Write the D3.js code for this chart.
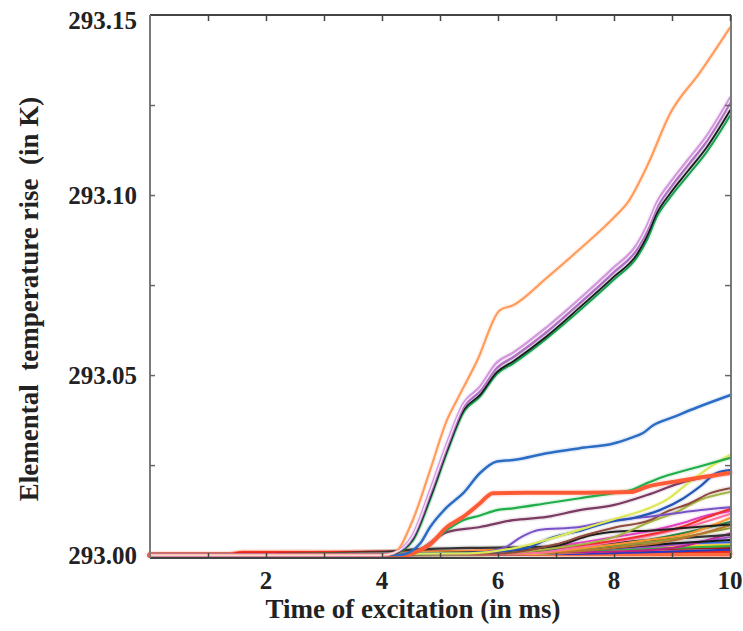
<!DOCTYPE html>
<html>
<head>
<meta charset="utf-8">
<script src="https://cdn.jsdelivr.net/npm/d3@7"></script>
<style>
    body { margin: 0; background: #fff; }
    svg { display: block; }
    .tick-label { font-family: "Liberation Serif", "Times New Roman", serif; font-weight: bold; font-size: 25px; fill: #222; }
    .axis-title { font-family: "Liberation Serif", "Times New Roman", serif; font-weight: bold; font-size: 27px; fill: #222; white-space: pre; }
    .series { fill: none; stroke-linejoin: round; stroke-linecap: round; }
</style>
</head>
<body>
<div id="chart"></div>
<script>
// Temperature values are stored as rise above 293 K, in mK: [time (ms), mK]
const BASE_K = 293;

// Main curves
const orangeTop = [[0,0],[4,0],[4.2,0.5],[4.53,9.7],[4.83,23.6],[5.12,37.5],[5.29,43],[5.64,54],[6.03,68],[6.26,69.4],[6.84,77],[7.41,85],[7.99,93.6],[8.24,98],[8.57,108],[8.97,122.7],[9.48,134],[10,146.5]];
const violetUpper = [[0,0],[4,0],[4.2,0.6],[4.53,5.5],[4.83,18],[5.12,31],[5.4,42],[5.69,46.8],[5.98,53.5],[6.26,56.2],[6.84,63.3],[7.41,71.2],[7.99,79.8],[8.4,86.4],[8.57,91.5],[8.74,98],[8.97,103.5],[9.26,109.5],[9.6,116.5],[10,127]];
const violetLower = [[0,0],[4,0],[4.2,0.5],[4.53,5],[4.83,17],[5.12,30],[5.4,41],[5.69,45.5],[5.98,52],[6.26,55],[6.84,62],[7.41,70],[7.99,78.5],[8.4,85],[8.57,90],[8.74,96.5],[8.97,102],[9.26,108],[9.6,115],[10,125.5]];
const blackMain = [[0,0],[4,0],[4.2,0.4],[4.53,4.4],[4.83,16],[5.12,29],[5.4,40],[5.69,44.5],[5.98,50.8],[6.26,53.8],[6.84,60.8],[7.41,68.8],[7.99,77.2],[8.4,83.6],[8.57,88.6],[8.74,95],[8.97,100.5],[9.26,106.4],[9.6,113.3],[10,123.5]];
const greenMain = [[0,0],[4,0],[4.2,0.3],[4.53,4],[4.83,15.5],[5.12,28.5],[5.4,39.5],[5.69,44],[5.98,50.3],[6.26,53.2],[6.84,60.2],[7.41,68],[7.99,76.4],[8.4,82.8],[8.57,87.6],[8.74,94],[8.97,99.4],[9.26,105.2],[9.6,112],[10,122]];
const blueMid = [[0,0],[4.3,0],[4.5,1],[4.66,3.3],[4.83,7.8],[5.12,13.3],[5.4,17.2],[5.69,22.8],[5.98,26],[6.26,26.4],[6.84,28.3],[7.41,29.7],[7.99,31],[8.28,32.5],[8.5,33.9],[8.67,36],[9.02,38.3],[9.43,41],[10,44.4]];
const redOrange = [[0,0],[4.4,0],[4.6,1],[4.83,3],[5.12,7.8],[5.4,10.6],[5.69,14.4],[5.91,17.2],[6.5,17.3],[7.5,17.3],[8.28,17.5],[8.57,19],[9.2,20.8],[10,22.8]];
const greenMid = [[0,0],[4.4,0],[4.7,1.5],[5.12,7],[5.4,9.7],[5.69,11],[5.98,12.5],[6.26,13],[6.84,14.4],[7.41,15.8],[7.99,17.2],[8.28,18],[8.57,20],[8.84,21.7],[9.43,24.4],[10,27]];
const plumMid = [[0,0],[4.4,0],[4.7,2],[5.12,6.4],[5.69,7.8],[6.26,9.7],[6.84,10.6],[7.41,12.5],[7.99,13.9],[8.57,16.7],[9.14,20],[10,22.8]];

// Lower curves
const yellowLow = [[0,0],[5.5,0.5],[6.3,2],[7,5],[7.5,7.5],[8,10],[8.6,13],[8.9,15.3],[9.3,20.3],[9.66,24.5],[10,27.8]];
const navyLow = [[0,0],[5,0.5],[6,1],[6.5,2],[6.9,4.7],[7.47,7],[7.93,9.2],[8.33,10.3],[8.79,12.5],[9.2,15.8],[9.48,19],[9.77,22.8],[10,23.6]];
const purpleLow = [[0,0],[5.5,0.5],[6.1,2],[6.4,5],[6.7,7],[7.4,7.8],[8,9.7],[8.5,10.5],[9,11.5],[9.5,12.5],[10,13.3]];
const brownLow = [[0,0],[6,0.5],[7,3],[7.5,5.5],[8.05,7.8],[8.62,9.7],[8.9,12],[9.31,14.4],[9.66,17.2],[10,18.6]];
const oliveLow = [[0,0],[6,0.5],[7,2],[8,5],[8.62,9.2],[9.08,12],[9.48,15.3],[10,17.5]];
const redLow = [[0,0],[6,0.5],[7,2],[8,4],[8.7,6],[9.2,8],[9.6,10.5],[10,12.8]];
const magentaLow = [[0,0],[6,0.5],[7,2.5],[8,5],[8.7,7],[9.2,9],[9.6,11],[10,12.2]];
const pinkLow = [[0,0],[6.5,0.5],[7.5,2.5],[8.5,5],[9.2,7.5],[10,11.4]];
const orangeLow = [[0,0],[6.5,0.5],[7.5,2],[8.5,4],[9.3,6],[10,10.3]];
const darkGreenLow = [[0,0],[6,0.5],[7.5,2],[8.5,4],[9.3,6.5],[10,9.2]];
const tanLow = [[0,0],[6.5,0.5],[8,2],[9,4],[10,8.3]];
const khakiLow = [[0,0],[7,1],[8,2.5],[9,4.5],[10,7.5]];
const blackLowA = [[0,0],[4.5,0.5],[6,1],[7,2.5],[7.6,5.5],[8,6.5],[8.6,6.8],[9.2,7.5],[10,8.5]];
const blackLowB = [[0,0],[5,0.3],[7,1],[8,2],[9,3.2],[10,4.2]];
const darkBand = [[0,0],[4,0.8],[4.5,1.5],[5.5,2],[6.5,2.2],[7.5,2.8],[8.5,4],[10,5.6]];
const blueLow = [[0,0],[6,0.5],[7,1.5],[8,2.5],[9,3.2],[10,3.6]];
const greenLow = [[0,0],[6,0.3],[7,1],[8,1.5],[9,2],[10,2.5]];
const goldLow = [[0,0],[6.5,0.3],[8,1.2],[9,2.2],[10,3]];
const indigoLow = [[0,0],[7,0.3],[9,1],[10,1.5]];
const violetLow = [[0,0],[6,0.5],[7.5,1.5],[9,2.8],[10,5]];
const crimsonLow = [[0,0],[6,0.5],[8,1],[9,2],[10,6]];
const orangeBand = [[0,0],[4,0.6],[5,1],[6,1.5],[8,2],[10,2.8]];
const maroonBand = [[0,0],[3,0.5],[4,1],[5,1],[6,1.2],[8,1.5],[10,2]];
const redBase = [[0,0],[1.3,0],[1.6,0.7],[4,0.8],[6,0.8],[8,0.9],[10,1]];
const vermilionBase = [[0,0],[1.3,0],[1.6,0.5],[4,0.5],[7,0.4],[10,0.3]];

// Axis ticks
const xTickLabels = [2, 4, 6, 8, 10];
const xMinorTicks = [1, 2, 3, 4, 5, 6, 7, 8, 9, 10];
const yTickLabels = ["293.00", "293.05", "293.10", "293.15"];
const yMinorTicks = [293.025, 293.05, 293.075, 293.10, 293.125];

// Drawing table: data + style, lower curves first
const seriesTable = [
    { data: vermilionBase, color: "#ff6a40", w: 5 },
    { data: redBase, color: "#e8261c", w: 2.6 },
    { data: maroonBand, color: "#9c1a14", w: 2 },
    { data: orangeBand, color: "#ff8a3c", w: 2 },
    { data: indigoLow, color: "#2a38c0", w: 2 },
    { data: goldLow, color: "#f0d030", w: 2 },
    { data: greenLow, color: "#2fb040", w: 2 },
    { data: blueLow, color: "#3060e0", w: 2 },
    { data: crimsonLow, color: "#c02088", w: 2 },
    { data: violetLow, color: "#a050d0", w: 2 },
    { data: darkBand, color: "#333333", w: 2.2 },
    { data: blackLowB, color: "#1a1a1a", w: 2 },
    { data: khakiLow, color: "#98982a", w: 2 },
    { data: tanLow, color: "#b87430", w: 2 },
    { data: darkGreenLow, color: "#2f8040", w: 2 },
    { data: orangeLow, color: "#ff9434", w: 2 },
    { data: pinkLow, color: "#ff70a0", w: 2 },
    { data: magentaLow, color: "#e040c0", w: 2 },
    { data: redLow, color: "#f03030", w: 2.2 },
    { data: blackLowA, color: "#202020", w: 2 },
    { data: oliveLow, color: "#a4b444", w: 2 },
    { data: brownLow, color: "#8e4a3c", w: 2 },
    { data: purpleLow, color: "#7a52c8", w: 2 },
    { data: navyLow, color: "#2456b8", w: 2.2 },
    { data: yellowLow, color: "#dce858", w: 2.2 },
    { data: plumMid, color: "#7a3a62", w: 2.2 },
    { data: greenMid, color: "#1fae4a", w: 2.2 },
    { data: redOrange, color: "#ff5a36", w: 4 },
    { data: blueMid, color: "#2b6cc4", w: 2.5 },
    { data: greenMain, color: "#14a050", w: 2 },
    { data: blackMain, color: "#1a1a1a", w: 1.8 },
    { data: violetLower, color: "#b070c4", w: 2.6 },
    { data: violetUpper, color: "#d49ade", w: 2.6 },
    { data: orangeTop, color: "#ff9c5c", w: 2.2 }
];

function drawChart() {
    const width = 743, height = 631;
    const left = 150, right = 731, top = 15, bottom = 558;

    const svg = d3.select("#chart").append("svg")
        .attr("width", width)
        .attr("height", height);

    const x = d3.scaleLinear().domain([0, 10]).range([left, right - 1]);
    const y = d3.scaleLinear().domain([292.9992, 293.15]).range([bottom, top]);

    const line = d3.line()
        .x(d => x(d[0]))
        .y(d => y(BASE_K + d[1] / 1000))
        .curve(d3.curveMonotoneX);

    const plot = svg.append("g");

    // soft halo under each curve, like the printed original
    plot.selectAll(".halo")
        .data(seriesTable)
        .join("path")
        .attr("class", "series halo")
        .attr("d", d => line(d.data))
        .attr("stroke", d => d.color)
        .attr("stroke-width", d => d.w + 3)
        .attr("opacity", 0.12);

    plot.selectAll(".curve")
        .data(seriesTable)
        .join("path")
        .attr("class", "series curve")
        .attr("d", d => line(d.data))
        .attr("stroke", d => d.color)
        .attr("stroke-width", d => d.w);

    // light core inside the violet pair
    plot.append("path")
        .attr("class", "series")
        .attr("d", line(violetLower.map((d, i) => [d[0], (d[1] + violetUpper[i][1]) / 2])))
        .attr("stroke", "#f6eaf8")
        .attr("stroke-width", 1.2);

    // frame
    const frame = svg.append("g");
    frame.append("line").attr("x1", left).attr("x2", right).attr("y1", top).attr("y2", top)
        .attr("stroke", "#444").attr("stroke-width", 2);
    frame.append("line").attr("x1", left).attr("x2", right).attr("y1", bottom).attr("y2", bottom)
        .attr("stroke", "#444").attr("stroke-width", 2);
    frame.append("line").attr("x1", left).attr("x2", left).attr("y1", top).attr("y2", bottom)
        .attr("stroke", "#7a7a7a").attr("stroke-width", 2);
    frame.append("line").attr("x1", right).attr("x2", right).attr("y1", top).attr("y2", bottom)
        .attr("stroke", "#7a7a7a").attr("stroke-width", 2);

    // x ticks, bottom and top, pointing inward
    svg.append("g")
        .attr("transform", `translate(0, ${bottom})`)
        .call(d3.axisTop(x).tickValues(xMinorTicks).tickSize(5).tickFormat("").tickSizeOuter(0))
        .call(g => g.select(".domain").remove())
        .call(g => g.selectAll("line").attr("stroke", "#444").attr("stroke-width", 1.5));
    svg.append("g")
        .attr("transform", `translate(0, ${top})`)
        .call(d3.axisBottom(x).tickValues(xMinorTicks).tickSize(6).tickFormat("").tickSizeOuter(0))
        .call(g => g.select(".domain").remove())
        .call(g => g.selectAll("line").attr("stroke", "#444").attr("stroke-width", 1.5));

    // y ticks, left and right, pointing inward
    svg.append("g")
        .attr("transform", `translate(${left}, 0)`)
        .call(d3.axisRight(y).tickValues(yMinorTicks).tickSize(5).tickFormat("").tickSizeOuter(0))
        .call(g => g.select(".domain").remove())
        .call(g => g.selectAll("line").attr("stroke", "#666").attr("stroke-width", 1.5));
    svg.append("g")
        .attr("transform", `translate(${right}, 0)`)
        .call(d3.axisLeft(y).tickValues(yMinorTicks).tickSize(6).tickFormat("").tickSizeOuter(0))
        .call(g => g.select(".domain").remove())
        .call(g => g.selectAll("line").attr("stroke", "#666").attr("stroke-width", 1.5));

    // tick labels
    svg.selectAll(".x-label")
        .data(xTickLabels)
        .join("text")
        .attr("class", "tick-label")
        .attr("x", d => x(d))
        .attr("y", 589)
        .attr("text-anchor", "middle")
        .text(d => d);

    svg.selectAll(".y-label")
        .data(yTickLabels)
        .join("text")
        .attr("class", "tick-label")
        .attr("x", 137)
        .attr("y", d => Math.max(y(+d) + 9, 29))
        .attr("text-anchor", "end")
        .text(d => d);

    // axis titles
    svg.append("text")
        .attr("class", "axis-title")
        .attr("x", 413)
        .attr("y", 618)
        .attr("text-anchor", "middle")
        .text("Time of excitation (in ms)");

    svg.append("text")
        .attr("class", "axis-title")
        .attr("transform", "translate(38, 299) rotate(-90)")
        .attr("text-anchor", "middle")
        .text("Elemental  temperature rise  (in K)");
}

drawChart();
</script>
</body>
</html>
